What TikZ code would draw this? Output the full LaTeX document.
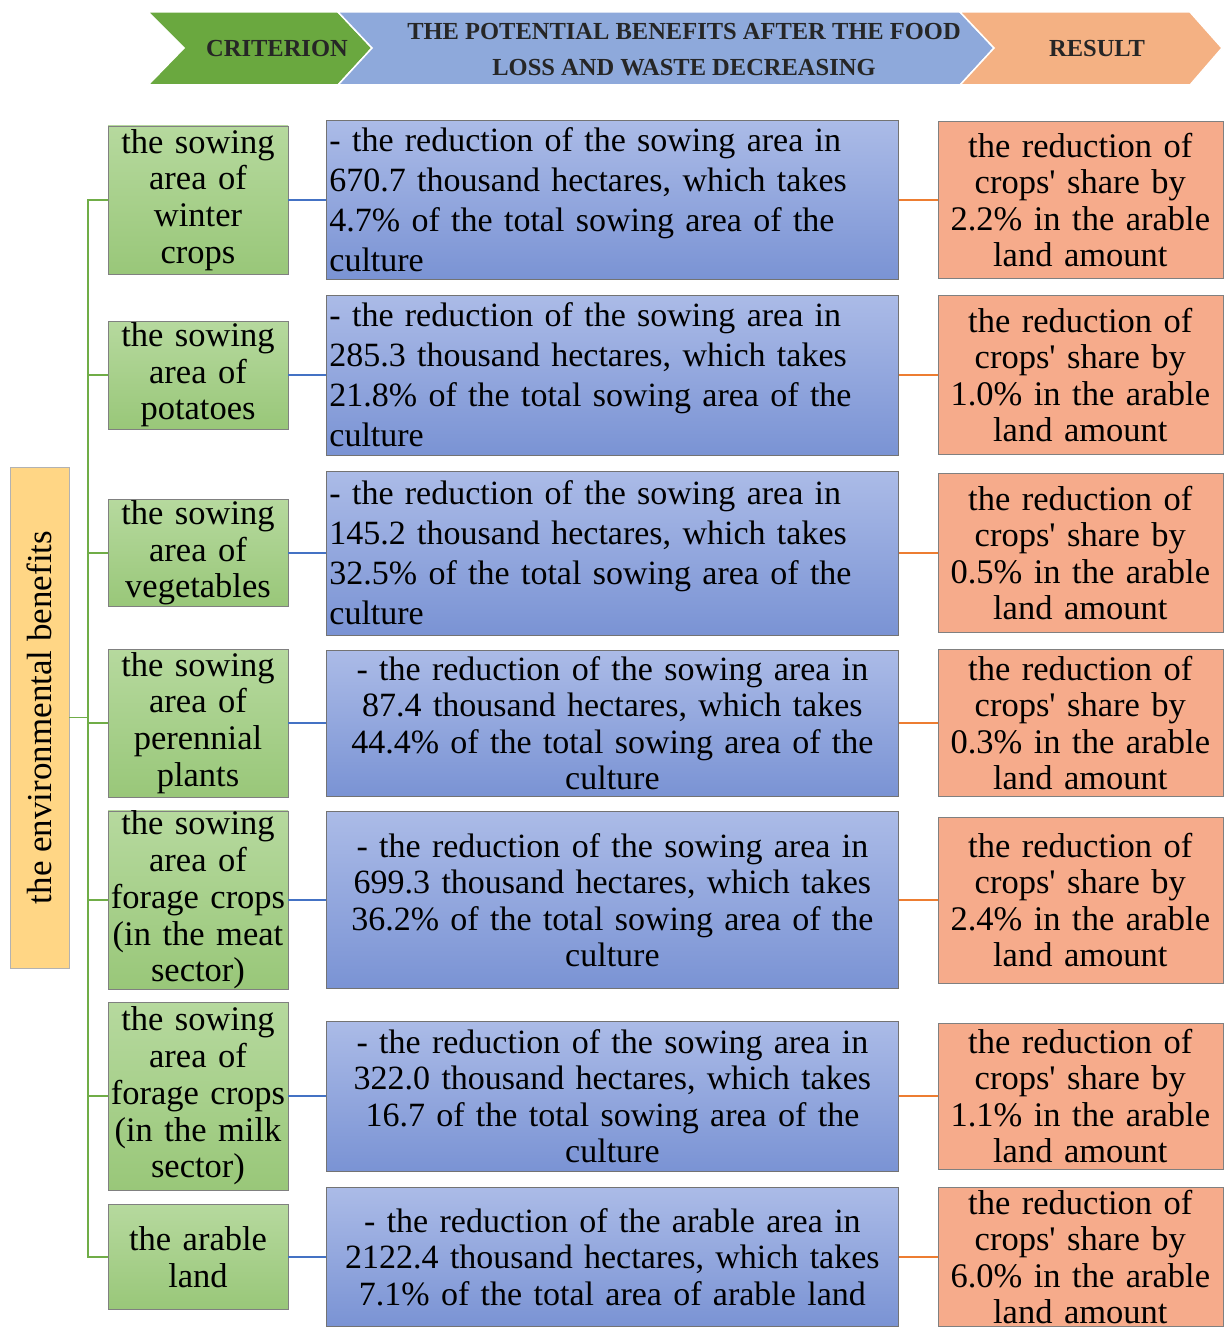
\documentclass[tikz,border=0pt]{standalone}
\usepackage{fontspec}
\setmainfont{Liberation Serif}
\usetikzlibrary{positioning}
\definecolor{hdrgreen}{RGB}{106,168,63}
\definecolor{hdrblue}{RGB}{142,169,219}
\definecolor{hdrorange}{RGB}{244,177,131}
\definecolor{critTop}{RGB}{182,217,158}
\definecolor{critBot}{RGB}{153,199,121}
\definecolor{benTop}{RGB}{171,187,231}
\definecolor{benBot}{RGB}{122,147,212}
\definecolor{resFill}{RGB}{246,171,139}
\definecolor{envFill}{RGB}{255,214,133}
\definecolor{lineGreen}{RGB}{112,173,71}
\definecolor{lineBlue}{RGB}{68,114,196}
\definecolor{lineOrange}{RGB}{237,125,49}
\newcommand{\apos}{\textquotesingle}

\begin{document}
\begin{tikzpicture}[x=1pt,y=-1pt,node distance=38pt and 38pt]
\tikzstyle{crit}=[rectangle, draw=black!50, top color=critTop, bottom color=critBot, text width=176pt, inner xsep=2pt, inner ysep=0pt, align=center, font=\fontsize{34.5}{36.7}\selectfont]
\tikzstyle{ben}=[rectangle, draw=black!55, top color=benTop, bottom color=benBot, text width=566pt, inner xsep=3pt, inner ysep=0pt, align=center, font=\fontsize{34}{36.5}\selectfont]
\tikzstyle{benleft}=[ben, align=left, font=\fontsize{34}{40}\selectfont]
\tikzstyle{res}=[rectangle, draw=black!50, fill=resFill, text width=279pt, inner xsep=3pt, inner ysep=0pt, align=center, font=\fontsize{34.5}{36.5}\selectfont]
\tikzstyle{hdr}=[font=\fontsize{24.5}{36}\selectfont\bfseries, align=center, text=black!85]
\tikzstyle{tree}=[lineGreen, line width=1.5pt]
\tikzstyle{toben}=[lineBlue, line width=1.5pt]
\tikzstyle{tores}=[lineOrange, line width=1.5pt]
\useasboundingbox (0,0) rectangle (1224,1327);
% header arrows
\fill[hdrgreen, draw=white, line width=1.5pt] (148,12) -- (338,12) -- (372,48) -- (338,85) -- (148,85) -- (184,48) -- cycle;
\fill[hdrblue, draw=white, line width=1.5pt] (338,12) -- (960,12) -- (994,48) -- (960,85) -- (338,85) -- (372,48) -- cycle;
\fill[hdrorange, draw=white, line width=1.5pt] (960,12) -- (1190,12) -- (1222,48) -- (1190,85) -- (960,85) -- (994,48) -- cycle;
\node[hdr] (hcrit) at (277,49) {CRITERION};
\node[hdr] (hben) at (684,50) {THE POTENTIAL BENEFITS AFTER THE FOOD\\LOSS AND WASTE DECREASING};
\node[hdr] (hres) at (1097,49) {RESULT};
% criteria
\node[crit, minimum height=148pt] (crit1) at (198,200) {the sowing\\area of\\winter\\crops};
\node[crit, minimum height=108pt] (crit2) at (198,375) {the sowing\\area of\\potatoes};
\node[crit, minimum height=107pt] (crit3) at (198,553) {the sowing\\area of\\vegetables};
\node[crit, minimum height=148pt] (crit4) at (198,723) {the sowing\\area of\\perennial\\plants};
\node[crit, minimum height=174pt] (crit5) at (198,900) {the sowing\\area of\\forage crops\\(in the meat\\sector)};
\node[crit, minimum height=188pt] (crit6) at (198,1096) {the sowing\\area of\\forage crops\\(in the milk\\sector)};
\node[crit, minimum height=105pt] (crit7) at (198,1257) {the arable\\land};
% benefits
\node[benleft, minimum height=159pt] (ben1) [right=of crit1] {- the reduction of the sowing area in\\670.7 thousand hectares, which takes\\4.7\% of the total sowing area of the\\culture};
\node[benleft, minimum height=160pt] (ben2) [right=of crit2] {- the reduction of the sowing area in\\285.3 thousand hectares, which takes\\21.8\% of the total sowing area of the\\culture};
\node[benleft, minimum height=164pt] (ben3) [right=of crit3] {- the reduction of the sowing area in\\145.2 thousand hectares, which takes\\32.5\% of the total sowing area of the\\culture};
\node[ben, minimum height=146pt] (ben4) [right=of crit4] {- the reduction of the sowing area in\\87.4 thousand hectares, which takes\\44.4\% of the total sowing area of the\\culture};
\node[ben, minimum height=177pt] (ben5) [right=of crit5] {- the reduction of the sowing area in\\699.3 thousand hectares, which takes\\36.2\% of the total sowing area of the\\culture};
\node[ben, minimum height=150pt] (ben6) [right=of crit6] {- the reduction of the sowing area in\\322.0 thousand hectares, which takes\\16.7 of the total sowing area of the\\culture};
\node[ben, minimum height=139pt] (ben7) [right=of crit7] {- the reduction of the arable area in\\2122.4 thousand hectares, which takes\\7.1\% of the total area of arable land};
% results
\node[res, minimum height=157pt] (res1) [right=39pt of ben1] {the reduction of\\crops\apos{} share by\\2.2\% in the arable\\land amount};
\node[res, minimum height=159pt] (res2) [right=39pt of ben2] {the reduction of\\crops\apos{} share by\\1.0\% in the arable\\land amount};
\node[res, minimum height=159pt] (res3) [right=39pt of ben3] {the reduction of\\crops\apos{} share by\\0.5\% in the arable\\land amount};
\node[res, minimum height=147pt] (res4) [right=39pt of ben4] {the reduction of\\crops\apos{} share by\\0.3\% in the arable\\land amount};
\node[res, minimum height=166pt] (res5) [right=39pt of ben5] {the reduction of\\crops\apos{} share by\\2.4\% in the arable\\land amount};
\node[res, minimum height=146pt] (res6) [right=39pt of ben6] {the reduction of\\crops\apos{} share by\\1.1\% in the arable\\land amount};
\node[res, minimum height=139pt] (res7) [right=39pt of ben7] {the reduction of\\crops\apos{} share by\\6.0\% in the arable\\land amount};
% left label
\node[rectangle, draw=black!30, fill=envFill, rotate=90, minimum width=501pt, minimum height=59pt, inner sep=0pt, font=\fontsize{35}{36}\selectfont] (env) at (39.5,717.5) {the environmental benefits};
% connectors
\draw[tree] (crit1.west) -- ++(-20pt,0) coordinate (trunk) |- (crit7.west);
\foreach \i in {2,...,6} {
  \draw[tree] (crit\i.west) -- (crit\i.west -| trunk);
}
\draw[tree] (env.south) -- (env.south -| trunk);
\foreach \i in {1,...,7} {
  \draw[toben] (crit\i) -- (ben\i);
  \draw[tores] (ben\i) -- (res\i);
}
\end{tikzpicture}
\end{document}
